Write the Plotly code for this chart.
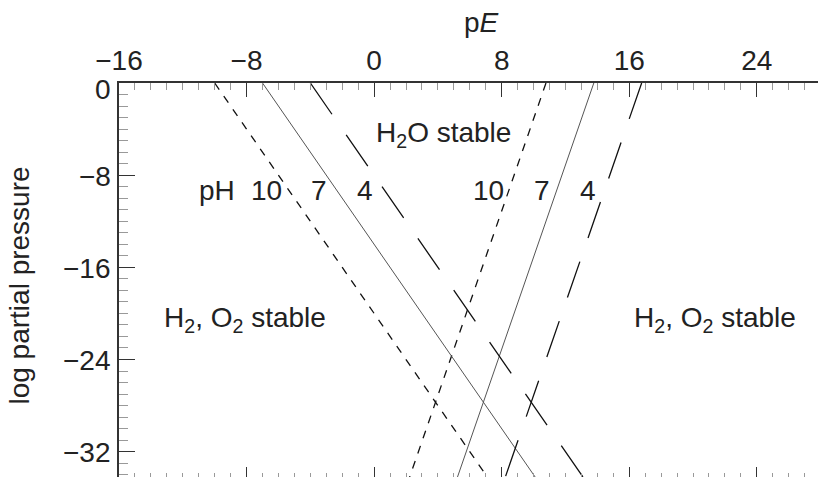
import plotly.graph_objects as go

# --- data ---
pH_values = [10, 7, 4]
line_dash = ["8px,8px", "solid", "38px,25px"]
logp_ends = [0, -36]
# H2 lines: pE at log p = 0 and at log p = -36
h2_pE_ends = {10: [-10.0, 8.0], 7: [-7.0, 11.0], 4: [-4.0, 14.0]}
# O2 lines: pE at log p = 0 and at log p = -36
o2_pE_ends = {10: [10.78, 1.78], 7: [13.78, 4.78], 4: [16.78, 7.78]}

x_ticks = [-16, -8, 0, 8, 16, 24]
y_ticks = [0, -8, -16, -24, -32]
y_tick_labels = ["0", "\u22128", "\u221216", "\u221224", "\u221232"]
x_range = [-16, 27.84]
y_range = [-34.2, 0]

FONT = "Liberation Sans, Arial, Helvetica, sans-serif"
TXT = "#222222"
FS = 28

fig = go.Figure()
for ph, dash in zip(pH_values, line_dash):
    solid = dash == "solid"
    style = dict(color="#555555" if solid else "#111111", width=1 if solid else 1.3, dash=dash)
    fig.add_trace(go.Scatter(x=h2_pE_ends[ph], y=logp_ends, mode="lines", line=style,
                             showlegend=False, hoverinfo="skip"))
    fig.add_trace(go.Scatter(x=o2_pE_ends[ph], y=logp_ends, mode="lines", line=style,
                             showlegend=False, hoverinfo="skip"))

# dummy trace for the bottom mirror axis
fig.add_trace(go.Scatter(x=[None], y=[None], xaxis="x2", showlegend=False))

fig.update_layout(
    width=818, height=477,
    margin=dict(l=119, r=0, t=83, b=0),
    paper_bgcolor="white", plot_bgcolor="white",
    font=dict(family=FONT, size=FS, color=TXT),
    xaxis=dict(range=x_range, side="top", tickvals=x_ticks, ticks="inside",
               ticklen=14, tickwidth=1, tickcolor="#333333",
               showline=True, linecolor="#333333", linewidth=1.5,
               showgrid=False, zeroline=False,
               minor=dict(dtick=1, ticklen=7, tickcolor="#999999", ticks="inside", showgrid=False),
               tickfont=dict(size=FS, color=TXT), ticklabelstandoff=0),
    xaxis2=dict(range=x_range, overlaying="x", side="bottom", anchor="y", matches="x",
                tickvals=x_ticks, ticks="inside", ticklen=10, tickcolor="#333333",
                showticklabels=False, showline=False, showgrid=False, zeroline=False,
                minor=dict(dtick=1, ticklen=4, tickcolor="#999999", ticks="inside", showgrid=False)),
    yaxis=dict(range=y_range, tickvals=y_ticks, ticks="inside", ticklen=16,
               tickcolor="#333333", showline=True, linecolor="#333333", linewidth=1.5,
               showgrid=False, zeroline=False, showticklabels=False,
               minor=dict(dtick=1, ticklen=9, tickcolor="#999999", ticks="inside", showgrid=False)),
)

ann = []
def txt(x, y, s, **kw):
    d = dict(x=x, y=y, xref="x", yref="y", text=s, showarrow=False,
             xanchor="center", yanchor="middle",
             font=dict(size=FS, color=TXT, family=FONT))
    d.update(kw)
    ann.append(d)

# y tick labels (the "0" sits a little below its tick, as in the reference)
for v, lab in zip(y_ticks, y_tick_labels):
    ann.append(dict(x=0, xref="paper", y=v, yref="y", text=lab, showarrow=False,
                    xanchor="right", yanchor="middle", xshift=-6,
                    yshift=-6 if v == 0 else -1,
                    font=dict(size=FS, color=TXT, family=FONT)))

txt(-9.84, -9.3, "pH")
txt(-6.77, -9.3, "10")
txt(-3.45, -9.3, "7")
txt(-0.56, -9.3, "4")
txt(7.15, -9.3, "10")
txt(10.53, -9.3, "7")
txt(13.42, -9.3, "4")
txt(4.33, -4.45, "H<sub>2</sub>O stable")
txt(-8.09, -20.55, "H<sub>2</sub>, O<sub>2</sub> stable")
txt(21.38, -20.55, "H<sub>2</sub>, O<sub>2</sub> stable")

ann.append(dict(x=0.519, y=1.153, xref="paper", yref="paper", text="p<i>E</i>",
                xanchor="center", yanchor="middle",
                showarrow=False, font=dict(size=FS, color=TXT, family=FONT)))
ann.append(dict(x=-0.143, y=0.486, xref="paper", yref="paper", text="log partial pressure",
                xanchor="center", yanchor="middle",
                showarrow=False, textangle=-90, font=dict(size=FS, color=TXT, family=FONT)))
fig.update_layout(annotations=ann)

fig.write_html("out.html")
